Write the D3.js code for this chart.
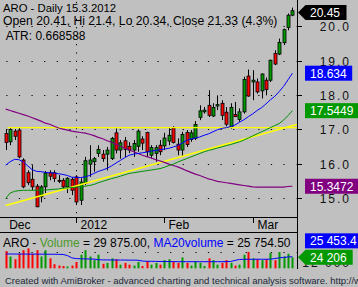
<!DOCTYPE html>
<html>
<head>
<meta charset="utf-8">
<script src="https://cdn.jsdelivr.net/npm/d3@7"></script>
<style>
  body { margin: 0; background: #c0c0c0; }
  svg { display: block; }
  text { font-family: Arial, "Liberation Sans", sans-serif; }
</style>
</head>
<body>
<svg id="chart" width="358" height="287"></svg>
<script>
// trading days shown (Dec 8 2011 .. Mar 14 2012)
const dates = [
  '2011-12-08','2011-12-09','2011-12-12','2011-12-13','2011-12-14','2011-12-15','2011-12-16','2011-12-19',
  '2011-12-20','2011-12-21','2011-12-22','2011-12-23','2011-12-27','2011-12-28','2011-12-29','2011-12-30',
  '2012-01-03','2012-01-04','2012-01-05','2012-01-06','2012-01-09','2012-01-10','2012-01-11','2012-01-12',
  '2012-01-13','2012-01-17','2012-01-18','2012-01-19','2012-01-20','2012-01-23','2012-01-24','2012-01-25',
  '2012-01-26','2012-01-27','2012-01-30','2012-01-31','2012-02-01','2012-02-02','2012-02-03','2012-02-06',
  '2012-02-07','2012-02-08','2012-02-09','2012-02-10','2012-02-13','2012-02-14','2012-02-15','2012-02-16',
  '2012-02-17','2012-02-21','2012-02-22','2012-02-23','2012-02-24','2012-02-27','2012-02-28','2012-02-29',
  '2012-03-01','2012-03-02','2012-03-05','2012-03-06','2012-03-07','2012-03-08','2012-03-09','2012-03-12',
  '2012-03-13','2012-03-14'
]
const open = [16.88,16.64,16.95,16.98,16.11,15.74,15.55,15.35,15.04,15.33,15.74,15.74,15.52,15.52,15.33,15.55,
  15.62,14.94,15.43,15.99,16.06,16.30,16.28,16.28,16.15,16.90,16.40,16.67,16.51,16.40,16.51,16.72,
  16.91,16.25,16.30,16.54,16.52,16.66,17.04,16.57,16.40,16.91,16.71,16.74,17.35,17.51,17.70,17.39,
  17.68,17.76,17.50,17.07,17.43,17.29,17.51,18.55,18.38,18.38,18.12,18.43,18.43,19.21,19.19,19.52,
  19.96,20.32]
const high = [17.01,17.04,17.01,17.04,16.16,15.81,15.96,15.41,15.38,15.79,15.81,15.81,15.67,15.58,15.61,15.61,
  15.67,15.58,16.20,16.54,16.20,16.54,16.40,16.49,16.78,17.03,16.69,16.78,16.63,16.69,17.00,16.80,
  16.93,16.54,16.54,16.69,16.90,17.07,17.09,16.74,16.93,16.98,16.98,17.24,17.70,17.65,18.14,17.76,
  17.99,17.85,17.65,17.76,17.80,17.61,18.53,18.74,18.72,18.48,18.63,18.51,19.03,19.30,19.64,19.93,
  20.37,20.54]
const low = [16.40,16.54,16.69,16.16,15.29,15.38,15.23,14.74,14.88,15.15,15.52,15.47,15.44,15.29,15.15,15.09,
  14.80,14.80,15.38,15.62,15.77,16.20,16.06,15.81,16.11,16.30,16.15,16.20,16.31,16.20,16.35,16.40,
  16.20,16.15,16.06,16.25,16.40,16.54,16.59,16.25,16.20,16.49,16.64,16.69,17.27,17.46,17.36,17.36,
  17.56,17.27,17.09,17.02,17.36,17.22,17.46,17.95,17.85,18.04,17.90,17.99,18.38,18.87,19.16,19.45,
  19.88,20.29]
const close = [16.62,17.00,16.80,16.20,15.33,15.45,15.33,14.75,15.33,15.73,15.64,15.57,15.49,15.33,15.58,15.23,
  14.89,15.47,16.09,16.11,16.15,16.42,16.15,16.40,16.74,16.40,16.61,16.42,16.40,16.59,16.95,16.60,
  16.35,16.47,16.47,16.35,16.75,16.83,16.62,16.40,16.85,16.56,16.90,17.14,17.54,17.56,17.41,17.64,
  17.72,17.41,17.15,17.64,17.37,17.51,18.45,17.97,18.43,18.09,18.61,18.16,19.01,18.90,19.53,19.90,
  20.32,20.45]
const volume = [38000,26000,20000,32000,40000,44000,32000,40000,26000,40000,22000,9000,6000,5000,4000,6000,
  14000,30000,40000,26000,18000,30000,10000,12000,22000,20000,8000,12000,8000,6000,14000,5000,
  16000,8000,12000,8000,18000,20000,14000,12000,24000,12000,6000,16000,12000,5000,22000,18000,
  8000,12000,18000,12000,6000,8000,30000,36000,22000,20000,18000,20000,34000,18000,36000,26000,
  32000,24206]
// moving averages
const maBlue = [15.96,16.06,16.13,16.12,16.05,15.94,15.83,15.78,15.77,15.75,15.74,15.73,15.71,15.69,15.66,15.61,
  15.60,15.60,15.62,15.66,15.72,15.78,15.82,15.87,15.94,16.02,16.10,16.18,16.25,16.28,16.30,16.32,
  16.34,16.37,16.39,16.41,16.43,16.45,16.49,16.53,16.60,16.68,16.72,16.75,16.78,16.83,16.87,16.93,
  16.99,17.03,17.05,17.08,17.13,17.21,17.28,17.37,17.45,17.55,17.63,17.74,17.86,17.96,18.10,18.25,
  18.44,18.634]
const maGreen = [14.99,15.15,15.20,15.22,15.23,15.23,15.23,15.23,15.24,15.24,15.25,15.26,15.27,15.29,15.30,15.31,
  15.32,15.33,15.35,15.37,15.40,15.45,15.49,15.53,15.57,15.60,15.64,15.68,15.72,15.74,15.76,15.78,
  15.80,15.82,15.84,15.86,15.90,15.95,15.99,16.05,16.10,16.15,16.20,16.25,16.30,16.35,16.39,16.42,
  16.46,16.49,16.53,16.56,16.60,16.64,16.69,16.75,16.81,16.87,16.93,16.99,17.05,17.11,17.17,17.27,
  17.40,17.5449]
const maPurple = [17.59,17.55,17.51,17.47,17.43,17.39,17.34,17.29,17.24,17.18,17.15,17.09,17.04,17.01,16.98,16.95,
  16.93,16.91,16.89,16.86,16.82,16.77,16.73,16.67,16.63,16.57,16.51,16.45,16.40,16.35,16.30,16.25,
  16.21,16.17,16.12,16.08,16.04,15.99,15.95,15.91,15.86,15.80,15.75,15.70,15.66,15.61,15.56,15.53,
  15.49,15.47,15.45,15.43,15.41,15.39,15.37,15.35,15.33,15.32,15.32,15.32,15.32,15.32,15.32,15.32,
  15.34,15.3472]
const volMa = [31600,31600,31500,31500,31400,31400,31300,31300,31200,31200,31000,31000,30800,30600,28000,23000,
  21500,21000,20800,20500,20300,19000,18500,18500,18300,18300,18200,18200,18000,18000,17800,16000,
  15500,15400,15200,15000,15000,14800,14800,14600,14600,14600,14600,14600,14600,14600,14600,14600,
  14600,14600,14800,15000,17500,19500,19800,19900,19900,20000,20000,20000,20200,21500,23000,24000,
  25000,25453.4]
const hLevel = 17.05
const trend = [[0, 14.79], [65, 17.11]]
const priceTicks = [15, 16, 17, 18, 19, 20]
const monthLabels = ['Dec', '2012', 'Feb', 'Mar']
const monthDates = [null, '2012-01-03', '2012-02-01', '2012-03-01']

const bars = dates.map((d, i) => ({ d, i, o: open[i], h: high[i], l: low[i], c: close[i], v: volume[i] }))

const svg = d3.select('#chart')
const right = 297.5

const x = d3.scaleBand().domain(dates).range([3.5, 294.6])
const bw = x.bandwidth()
const cx = d => x(d) + bw / 2
const y = d3.scaleLinear().domain([15, 20]).range([198.2, 26.2])
const yv = d3.scaleLinear().domain([0, 36000]).range([268.3, 252])

svg.append('rect').attr('width', 358).attr('height', 287).attr('fill', '#c0c0c0')

svg.append('clipPath').attr('id', 'main')
  .append('rect').attr('x', 0).attr('y', 0).attr('width', right).attr('height', 217)

// dotted grid
const grid = svg.append('g').attr('stroke', '#000').attr('stroke-width', 1)
  .attr('stroke-dasharray', '1.2,11.4').attr('stroke-dashoffset', 6.3)
grid.selectAll('line.h').data(priceTicks).enter().append('line')
  .attr('x1', 0).attr('x2', right - 1)
  .attr('y1', d => Math.round(y(d)) + 0.5).attr('y2', d => Math.round(y(d)) + 0.5)
grid.append('line').attr('x1', 0).attr('x2', right - 1)
  .attr('y1', Math.round(yv(36000)) + 0.5).attr('y2', Math.round(yv(36000)) + 0.5)
svg.append('line')
  .attr('x1', Math.round(cx(monthDates[1])) + 0.5).attr('x2', Math.round(cx(monthDates[1])) + 0.5)
  .attr('y1', 2).attr('y2', 217)
  .attr('stroke', '#000').attr('stroke-dasharray', '1.2,7.2')

const plot = svg.append('g').attr('clip-path', 'url(#main)')

// candles
const candle = plot.append('g').selectAll('g').data(bars).enter().append('g')
candle.append('line')
  .attr('x1', d => Math.round(cx(d.d)) + 0.5).attr('x2', d => Math.round(cx(d.d)) + 0.5)
  .attr('y1', d => y(d.h)).attr('y2', d => y(d.l))
  .attr('stroke', '#000').attr('stroke-width', 1)
candle.append('rect')
  .attr('x', d => Math.round(cx(d.d)) - 1)
  .attr('width', 3)
  .attr('y', d => y(Math.max(d.o, d.c)))
  .attr('height', d => Math.max(1, y(Math.min(d.o, d.c)) - y(Math.max(d.o, d.c))))
  .attr('fill', d => d.c >= d.o ? '#009900' : '#ff0000')
  .attr('stroke', '#000').attr('stroke-width', 0.8)

// yellow levels
plot.append('line')
  .attr('x1', cx(dates[0]) + 2).attr('x2', right)
  .attr('y1', y(hLevel)).attr('y2', y(hLevel))
  .attr('stroke', '#ffff00').attr('stroke-width', 1.2)
const tx = d3.scaleLinear().domain([trend[0][0], trend[1][0]]).range([cx(dates[trend[0][0]]), cx(dates[trend[1][0]])])
const ty = d3.scaleLinear().domain([trend[0][0], trend[1][0]]).range([trend[0][1], trend[1][1]])
plot.append('line')
  .attr('x1', tx(trend[0][0])).attr('y1', y(ty(trend[0][0])))
  .attr('x2', right).attr('y2', y(ty(tx.invert(right))))
  .attr('stroke', '#ffff00').attr('stroke-width', 1.6)

// moving averages
const maLine = arr => d3.line().x((v, i) => cx(dates[i])).y(v => y(v))(arr)
plot.append('path').attr('d', maLine(maPurple)).attr('fill', 'none').attr('stroke', '#800080').attr('stroke-width', 1.2)
plot.append('path').attr('d', maLine(maGreen)).attr('fill', 'none').attr('stroke', '#009000').attr('stroke-width', 1)
plot.append('path').attr('d', maLine(maBlue)).attr('fill', 'none').attr('stroke', '#0000ff').attr('stroke-width', 1)

// panel frame lines
svg.append('line').attr('x1', 0).attr('x2', right).attr('y1', 217.5).attr('y2', 217.5).attr('stroke', '#000')
svg.append('line').attr('x1', 0).attr('x2', right).attr('y1', 232.5).attr('y2', 232.5).attr('stroke', '#000')
svg.append('line').attr('x1', right).attr('x2', right).attr('y1', 0).attr('y2', 269).attr('stroke', '#000')

// x axis
monthLabels.forEach((m, k) => {
  const d = monthDates[k]
  const px = d ? Math.round(cx(d)) + 0.5 : cx(dates[0]) - 0.5
  if (d) {
    svg.append('line').attr('x1', px).attr('x2', px).attr('y1', 218).attr('y2', 223).attr('stroke', '#000')
  }
  svg.append('text').attr('x', px + 4).attr('y', 228.5).attr('font-size', 12).attr('fill', '#000').text(m)
})

// y axis
priceTicks.forEach(t => {
  const py = Math.round(y(t)) + 0.5
  svg.append('line').attr('x1', right).attr('x2', right + 4.5).attr('y1', py).attr('y2', py).attr('stroke', '#000')
  svg.append('text').attr('x', 351).attr('y', py + 4).attr('font-size', 12).attr('letter-spacing', 2)
    .attr('text-anchor', 'end').attr('fill', '#111').text(t.toFixed(1))
})

// volume panel
svg.append('g').selectAll('rect').data(bars).enter().append('rect')
  .attr('x', d => Math.round(cx(d.d)) - 0.5)
  .attr('width', 2)
  .attr('y', d => yv(d.v))
  .attr('height', d => yv(0) - yv(d.v))
  .attr('fill', d => d.c >= d.o ? '#009900' : '#ff0000')
svg.append('path')
  .attr('d', d3.line().x((v, i) => cx(dates[i])).y(v => yv(v))(volMa))
  .attr('fill', 'none').attr('stroke', '#0000ff').attr('stroke-width', 1)
svg.append('text').attr('x', 351).attr('y', yv(12000) + 4).attr('font-size', 12).attr('letter-spacing', 2)
  .attr('text-anchor', 'end').attr('fill', '#111').text('12 000')

// value labels on the right
const fmtV = v => d3.format(',')(v).replace(/,/g, ' ')
const labelBox = (val, cy, fill, arrow, txt) => {
  const g = svg.append('g')
  const h = 7.5
  const x0 = arrow ? 305.5 : 305
  const tw = txt.length * 6.2 + 6
  if (arrow) {
    g.append('path').attr('d', `M${right + 0.5},${cy} L${x0},${cy - h} L${x0 + tw + 4},${cy - h} L${x0 + tw + 4},${cy + h} L${x0},${cy + h} Z`)
      .attr('fill', fill)
  } else {
    g.append('rect').attr('x', x0).attr('y', cy - h).attr('width', tw + 4).attr('height', 2 * h).attr('fill', fill)
  }
  g.append('text').attr('x', 310).attr('y', cy + 4.5).attr('font-size', 12).attr('fill', '#fff').text(txt)
}
const lastC = close[close.length - 1]
labelBox(lastC, Math.max(y(lastC), 12.5), '#000', true, lastC.toFixed(2))
labelBox(maBlue[maBlue.length - 1], y(maBlue[maBlue.length - 1]), '#0000ff', false, '18.634')
labelBox(maGreen[maGreen.length - 1], y(maGreen[maGreen.length - 1]), '#009900', false, '17.5449')
labelBox(maPurple[maPurple.length - 1], y(maPurple[maPurple.length - 1]), '#800080', false, '15.3472')
const lastV = volume[volume.length - 1]
labelBox(lastV, yv(lastV), '#009900', true, fmtV(lastV))
labelBox(volMa[volMa.length - 1], yv(lastV) - 16.5, '#0000ff', false, '25 453.4')

// titles
const title = svg.append('g').attr('fill', '#000')
title.append('text').attr('x', 3).attr('y', 11.5).attr('font-size', 11.3).text('ARO - Daily 15.3.2012')
title.append('text').attr('x', 3).attr('y', 25).attr('font-size', 12.2).text('Open 20.41, Hi 21.4, Lo 20.34, Close 21.33 (4.3%)')
title.append('text').attr('x', 3).attr('y', 39.5).attr('font-size', 12).attr('xml:space', 'preserve').text(' ATR: 0.668588')

const vt = svg.append('text').attr('x', 3).attr('y', 246.5).attr('font-size', 12).attr('fill', '#000')
vt.append('tspan').text('ARO - ')
vt.append('tspan').attr('fill', '#4a9a2a').text('Volume')
vt.append('tspan').text(' = 29 875.00, ')
vt.append('tspan').attr('fill', '#0000ff').text('MA20volume')
vt.append('tspan').text(' = 25 754.50')

svg.append('text').attr('x', 5).attr('y', 284).attr('font-size', 9.5).attr('fill', '#1e2838')
  .text('Created with AmiBroker - advanced charting and technical analysis software. http://www.amibroker.com')
</script>
</body>
</html>
